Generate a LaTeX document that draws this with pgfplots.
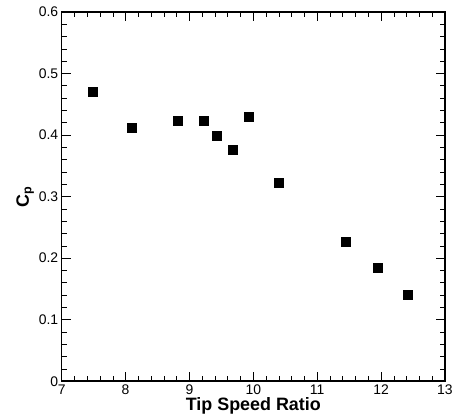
\documentclass[border=0pt]{standalone}
\usepackage{fontspec}
\setmainfont{Liberation Sans}
\usepackage{pgfplots}
\pgfplotsset{compat=1.18}
\begin{document}
\begin{tikzpicture}
\begin{axis}[
  scale only axis,
  width=385pt, height=371pt,
  xmin=7, xmax=13, ymin=0, ymax=0.6,
  xtick={7,8,...,13},
  ytick={0,0.1,0.2,0.3,0.4,0.5,0.6},
  minor tick num=4,
  tick align=inside,
  major tick length=9pt,
  minor tick length=5pt,
  axis line style={line width=1.5pt},
  every tick/.style={black, line width=1pt},
  minor tick style={line width=0.6pt},
  tick pos=both,
  /pgf/number format/assume math mode=true,
  /pgf/number format/fixed,
  /pgf/number format/precision=1,
  ticklabel style={font=\fontsize{14}{16}\selectfont},
  xlabel={\textbf{Tip Speed Ratio}},
  ylabel={\textbf{C\textsubscript{p}}},
  label style={font=\fontsize{18}{20}\selectfont},
  xlabel style={yshift=4pt},
  ylabel style={yshift=-2pt},
]
\addplot[only marks, mark=square*, mark size=4.5pt, mark options={fill=black, draw=black}] coordinates {
(7.49,0.470)
(8.09,0.412)
(8.82,0.424)
(9.23,0.424)
(9.43,0.399)
(9.68,0.376)
(9.93,0.430)
(10.40,0.322)
(11.44,0.227)
(11.95,0.185)
(12.41,0.140)
};
\end{axis}
\useasboundingbox ([xshift=-62pt,yshift=-36pt]current axis.south west) rectangle ([xshift=9pt,yshift=12pt]current axis.north east);
\end{tikzpicture}
\end{document}
